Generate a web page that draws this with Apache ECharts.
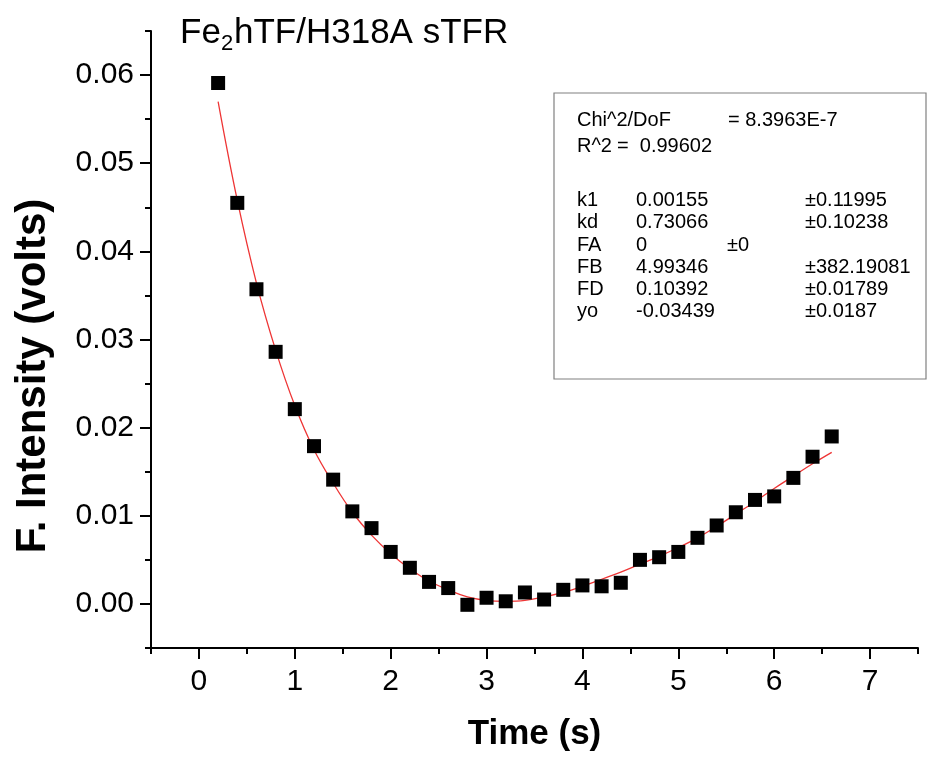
<!DOCTYPE html>
<html>
<head>
<meta charset="utf-8">
<script src="https://cdn.jsdelivr.net/npm/echarts@6/dist/echarts.min.js"></script>
<style>
html,body{margin:0;padding:0;background:#fff;}
#chart{width:927px;height:758px;}
</style>
</head>
<body>
<div id="chart"></div>
<script>
// ---- data ----
var times = [0.2,0.4,0.6,0.8,1.0,1.2,1.4,1.6,1.8,2.0,2.2,2.4,2.6,2.8,3.0,3.2,3.4,3.6,3.8,4.0,4.2,4.4,4.6,4.8,5.0,5.2,5.4,5.6,5.8,6.0,6.2,6.4,6.6];
var intensity = [0.0591,0.0455,0.0357,0.0286,0.0221,0.0179,0.0141,0.0105,0.0086,0.0059,0.0041,0.0025,0.0018,-0.0001,0.0007,0.0003,0.0013,0.0005,0.0016,0.0021,0.0020,0.0024,0.0050,0.0053,0.0059,0.0075,0.0089,0.0104,0.0118,0.0122,0.0143,0.0167,0.0190];
var fitValues = [0.0570,0.0458,0.0364,0.0288,0.0225,0.0175,0.0137,0.0104,0.0078,0.0057,0.0040,0.0026,0.0016,0.0008,0.0004,0.0003,0.0004,0.0008,0.0013,0.0020,0.0028,0.0036,0.0045,0.0054,0.0064,0.0075,0.0088,0.0102,0.0116,0.0131,0.0145,0.0159,0.0172];
var xMajorTicks = [0,1,2,3,4,5,6,7];
var xMinorTicks = [-0.5,0.5,1.5,2.5,3.5,4.5,5.5,6.5,7.5];
var yMajorTicks = [0,0.01,0.02,0.03,0.04,0.05,0.06];
var yMinorTicks = [-0.005,0.005,0.015,0.025,0.035,0.045,0.055,0.065];
var fitLines = [
  ['Chi^2/DoF', '', '= 8.3963E-7'],
  ['R^2', '=  0.99602', ''],
  ['', '', ''],
  ['k1', '0.00155', '\u00b10.11995'],
  ['kd', '0.73066', '\u00b10.10238'],
  ['FA', '0', '\u00b10'],
  ['FB', '4.99346', '\u00b1382.19081'],
  ['FD', '0.10392', '\u00b10.01789'],
  ['yo', '-0.03439', '\u00b10.0187']
];

var FONT = 'Liberation Sans, Arial, Helvetica, sans-serif';
var chart = echarts.init(document.getElementById('chart'), null, {renderer:'canvas'});

function pairs(xs, ys){ var out=[]; for(var i=0;i<xs.length;i++) out.push([xs[i], ys[i]]); return out; }

var axisLineStyle = {color:'#000', width:2};

// fit-result box
var boxGraphics = [{
  type:'rect', shape:{x:554, y:93, width:372, height:286},
  style:{fill:'none', stroke:'#808080', lineWidth:1.2}, z:10
}];
var rowY = [121,147,173,201,223,246,268,290,312];
for (var r=0; r<fitLines.length; r++){
  var row = fitLines[r];
  var cols;
  if (r===0) cols = [577, 617, 728];
  else if (r===1) cols = [577, 617, 805];
  else if (row[0]==='FA') cols = [577, 636, 727];
  else cols = [577, 636, 805];
  for (var c=0;c<3;c++){
    if(!row[c]) continue;
    boxGraphics.push({type:'text', left:cols[c], top:rowY[r]-11, z:11,
      style:{text:row[c], font:'20px '+FONT, fill:'#000'}});
  }
}

var option = {
  backgroundColor:'#fff',
  animation:false,
  grid:{left:151, right:9, top:31, bottom:110, containLabel:false},
  xAxis:[{
    type:'value', min:-0.5, max:7.5, position:'bottom',
    name:'Time (s)', nameLocation:'middle', nameGap:69,
    nameTextStyle:{fontFamily:FONT, fontSize:35, fontWeight:'bold', color:'#000'},
    axisLine:{show:true, onZero:false, lineStyle:axisLineStyle},
    axisTick:{show:true, customValues:xMajorTicks, length:11, lineStyle:{color:'#000', width:2}},
    axisLabel:{show:true, customValues:xMajorTicks, margin:19, fontFamily:FONT, fontSize:30, color:'#000',
      formatter:function(v){return String(Math.round(v));}},
    splitLine:{show:false}
  },{
    type:'value', min:-0.5, max:7.5, position:'bottom',
    axisLine:{show:false, onZero:false},
    axisTick:{show:true, customValues:xMinorTicks, length:6, lineStyle:{color:'#000', width:2}},
    axisLabel:{show:false},
    splitLine:{show:false}
  }],
  yAxis:[{
    type:'value', min:-0.005, max:0.065, position:'left',
    axisLine:{show:true, onZero:false, lineStyle:axisLineStyle},
    axisTick:{show:true, customValues:yMajorTicks, length:11, lineStyle:{color:'#000', width:2}},
    axisLabel:{show:true, customValues:yMajorTicks, margin:17, fontFamily:FONT, fontSize:30, color:'#000',
      formatter:function(v){return (Math.abs(v)<1e-9?0:v).toFixed(2);}},
    splitLine:{show:false}
  },{
    type:'value', min:-0.005, max:0.065, position:'left',
    axisLine:{show:false, onZero:false},
    axisTick:{show:true, customValues:yMinorTicks, length:6, lineStyle:{color:'#000', width:2}},
    axisLabel:{show:false},
    splitLine:{show:false}
  }],
  series:[{
    type:'line', name:'fit', xAxisIndex:0, yAxisIndex:0,
    data:pairs(times, fitValues), smooth:0.4, showSymbol:false, symbol:'none',
    lineStyle:{color:'#ee3535', width:1.3}, z:3
  },{
    type:'scatter', name:'data', xAxisIndex:0, yAxisIndex:0,
    data:pairs(times, intensity), symbol:'rect', symbolSize:14,
    itemStyle:{color:'#000', opacity:1}, z:4
  }],
  graphic:[
    {type:'text', left:180, top:16, style:{text:'Fe', font:'35px '+FONT, fill:'#000'}},
    {type:'text', left:221, top:33, style:{text:'2', font:'22px '+FONT, fill:'#000'}},
    {type:'text', left:234, top:16, style:{text:'hTF/H318A sTFR', font:'35px '+FONT, fill:'#000'}},
    {type:'text', x:33, y:376, rotation:Math.PI/2,
      style:{text:'F. Intensity (volts)', font:'bold 42px '+FONT, fill:'#000', align:'center', verticalAlign:'middle'}}
  ].concat(boxGraphics)
};
chart.setOption(option);
</script>
</body>
</html>
